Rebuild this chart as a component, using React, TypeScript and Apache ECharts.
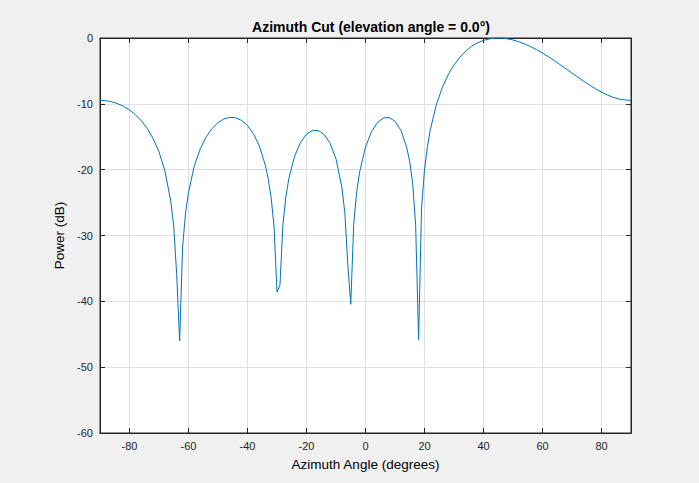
import { useEffect, useRef } from "react";
import * as echarts from "echarts";

const angles = [
  -90, -88, -86, -84, -82, -80, -78, -76, -74, -72, -70, -68, -66, -65, -64, -63, -62, -61, -60,
  -58, -56, -54, -52, -50, -48, -46, -44, -42, -40, -38, -36, -34, -33, -32, -31, -30, -29, -28,
  -27, -26, -24, -22, -20, -18, -16, -14, -12, -10, -8, -7, -6, -5, -4, -3, -2, 0, 2, 4, 6, 8,
  10, 12, 14, 15, 16, 17, 18, 19, 20, 21, 22, 24, 26, 28, 30, 32, 34, 36, 38, 40, 42, 44, 45,
  46, 48, 50, 52, 54, 56, 58, 60, 62, 64, 66, 68, 70, 72, 74, 76, 78, 80, 82, 84, 86, 88, 90,
];

const power = [
  -9.48, -9.53, -9.7, -9.98, -10.38, -10.93, -11.65, -12.57, -13.74, -15.27, -17.3, -20.18,
  -24.8, -28.67, -35.94, -46.02, -31.7, -26.59, -23.43,
  -19.39, -16.81, -15.01, -13.73, -12.85, -12.29, -12.05, -12.12, -12.52, -13.29, -14.52,
  -16.39, -19.26, -21.34, -24.21, -28.67, -38.58, -37.54, -28.4,
  -24.13, -21.38, -17.91, -15.84, -14.62, -14.04, -14.06, -14.67, -16.0, -18.37, -22.71,
  -26.6, -34.38, -40.45, -28.3, -23.43, -20.38, -16.55, -14.25, -12.87, -12.17, -12.08,
  -12.65, -14.03, -16.67, -18.83, -22.15, -28.38, -45.8, -25.81, -20.02, -16.45, -13.86,
  -10.17, -7.56, -5.6, -4.09, -2.9, -1.97, -1.26, -0.73, -0.36, -0.13, -0.01, 0,
  -0.01, -0.11, -0.3, -0.57, -0.91, -1.32, -1.78, -2.29, -2.85, -3.44, -4.06, -4.69, -5.33,
  -5.96, -6.58, -7.17, -7.73, -8.22, -8.65, -9.01, -9.27, -9.42, -9.48,
];

const title = "Azimuth Cut (elevation angle = 0.0°)";
const xName = "Azimuth Angle (degrees)";
const yName = "Power (dB)";

const FONT = "'Liberation Sans', Arial, Helvetica, sans-serif";
const AX = "#262626";

export default function App() {
  const ref = useRef<HTMLDivElement>(null);

  useEffect(() => {
    if (!ref.current) return;
    const chart = echarts.init(ref.current, null, { renderer: "svg" });
    const tickCommon = {
      show: true,
      inside: true,
      length: 5,
      lineStyle: { color: AX, width: 1 },
    };
    chart.setOption({
      animation: false,
      backgroundColor: "#f0f0f0",
      title: {
        text: title,
        left: 366,
        textAlign: "center",
        top: 15,
        textStyle: { fontFamily: FONT, fontSize: 14, fontWeight: "bold", color: "#000" },
      },
      grid: {
        left: 100,
        top: 38,
        width: 531,
        height: 395,
        show: true,
        backgroundColor: "#ffffff",
        borderColor: AX,
        borderWidth: 1,
      },
      xAxis: [
        {
          type: "value",
          min: -90,
          max: 90,
          splitNumber: 9,
          position: "bottom",
          name: xName,
          nameLocation: "middle",
          nameGap: 24,
          nameTextStyle: { fontFamily: FONT, fontSize: 13.5, color: "#000" },
          axisLine: { show: true, onZero: false, lineStyle: { color: AX } },
          axisTick: tickCommon,
          axisLabel: {
            fontFamily: FONT,
            fontSize: 11,
            color: AX,
            margin: 7,
            showMinLabel: false,
            showMaxLabel: false,
            formatter: (v: number) => (Math.abs(v) === 90 ? "" : String(v)),
          },
          splitLine: { show: true, lineStyle: { color: "#dfdfdf", width: 1 } },
        },
        {
          type: "value",
          min: -90,
          max: 90,
          splitNumber: 9,
          position: "top",
          axisLine: { show: true, onZero: false, lineStyle: { color: AX } },
          axisTick: tickCommon,
          axisLabel: { show: false },
          splitLine: { show: false },
        },
      ],
      yAxis: [
        {
          type: "value",
          min: -60,
          max: 0,
          interval: 10,
          position: "left",
          name: yName,
          nameLocation: "middle",
          nameGap: 27,
          nameRotate: 90,
          nameTextStyle: { fontFamily: FONT, fontSize: 13.5, color: "#000" },
          axisLine: { show: true, onZero: false, lineStyle: { color: AX } },
          axisTick: tickCommon,
          axisLabel: { fontFamily: FONT, fontSize: 11, color: AX, margin: 7 },
          splitLine: { show: true, lineStyle: { color: "#dfdfdf", width: 1 } },
        },
        {
          type: "value",
          min: -60,
          max: 0,
          interval: 10,
          position: "right",
          axisLine: { show: true, onZero: false, lineStyle: { color: AX } },
          axisTick: tickCommon,
          axisLabel: { show: false },
          splitLine: { show: false },
        },
      ],
      series: [
        {
          type: "line",
          xAxisIndex: 0,
          yAxisIndex: 0,
          data: angles.map((a, i) => [a, power[i]]),
          showSymbol: false,
          symbol: "none",
          lineStyle: { color: "#0072BD", width: 1 },
          z: 5,
        },
      ],
    });
    return () => chart.dispose();
  }, []);

  return (
    <div
      style={{
        position: "fixed",
        left: 0,
        top: 0,
        width: 699,
        height: 483,
        background: "#f0f0f0",
      }}
    >
      <div ref={ref} style={{ width: 699, height: 483 }} />
    </div>
  );
}
